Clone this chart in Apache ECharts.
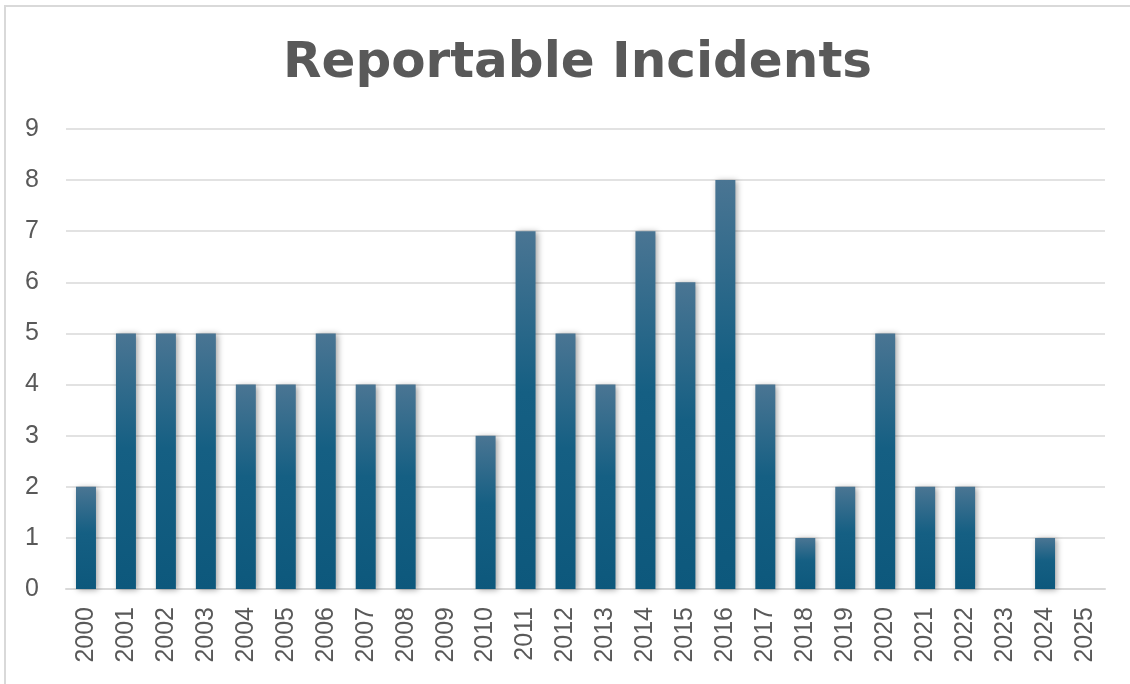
<!DOCTYPE html>
<html>
<head>
<meta charset="utf-8">
<script src="https://cdn.jsdelivr.net/npm/echarts@6/dist/echarts.min.js"></script>
<style>
html,body{margin:0;padding:0;background:#fff;}
#frame{position:absolute;left:4px;top:5px;width:1140px;height:700px;border-left:2px solid #d9d9d9;border-top:2px solid #d9d9d9;box-sizing:border-box;}
#chart{position:absolute;left:0;top:0;width:1130px;height:684px;}
</style>
</head>
<body>
<div id="frame"></div>
<div id="chart"></div>
<script>
const titleText = "Reportable Incidents";
const years = ["2000","2001","2002","2003","2004","2005","2006","2007","2008","2009","2010","2011","2012","2013","2014","2015","2016","2017","2018","2019","2020","2021","2022","2023","2024","2025"];
const incidents = [2,5,5,5,4,4,5,4,4,0,3,7,5,4,7,6,8,4,1,2,5,2,2,0,1,0];

const chart = echarts.init(document.getElementById('chart'), null, {renderer:'canvas'});
chart.setOption({
  animation:false,
  backgroundColor:'transparent',
  title:{
    text:titleText,
    left:278,
    top:34,
    textStyle:{fontFamily:'DejaVu Sans',fontWeight:'bold',fontSize:50,color:'#595959'}
  },
  grid:{left:66,right:25,top:129,bottom:95,containLabel:false},
  xAxis:{
    type:'category',
    data:years,
    axisLine:{lineStyle:{color:'#d9d9d9',width:2}},
    axisTick:{show:false},
    axisLabel:{rotate:90,fontFamily:'Liberation Sans',fontSize:25,color:'#595959',margin:18,interval:0}
  },
  yAxis:{
    type:'value',
    min:0,max:9,interval:1,
    axisLine:{show:false},
    axisTick:{show:false},
    splitLine:{lineStyle:{color:'#d9d9d9',width:1.5}},
    axisLabel:{fontFamily:'Liberation Sans',fontSize:25,color:'#595959',margin:27}
  },
  series:[{
    type:'bar',
    data:incidents.map(v => v === 0 ? null : v),
    barWidth:'50%',
    itemStyle:{
      color:new echarts.graphic.LinearGradient(0,0,0,1,[
        {offset:0,color:'#4a7593'},
        {offset:0.45,color:'#155f83'},
        {offset:1,color:'#0d587c'}
      ]),
      shadowColor:'rgba(0,0,0,0.35)',
      shadowBlur:6,
      shadowOffsetX:2,
      shadowOffsetY:1
    }
  }]
});
</script>
</body>
</html>
